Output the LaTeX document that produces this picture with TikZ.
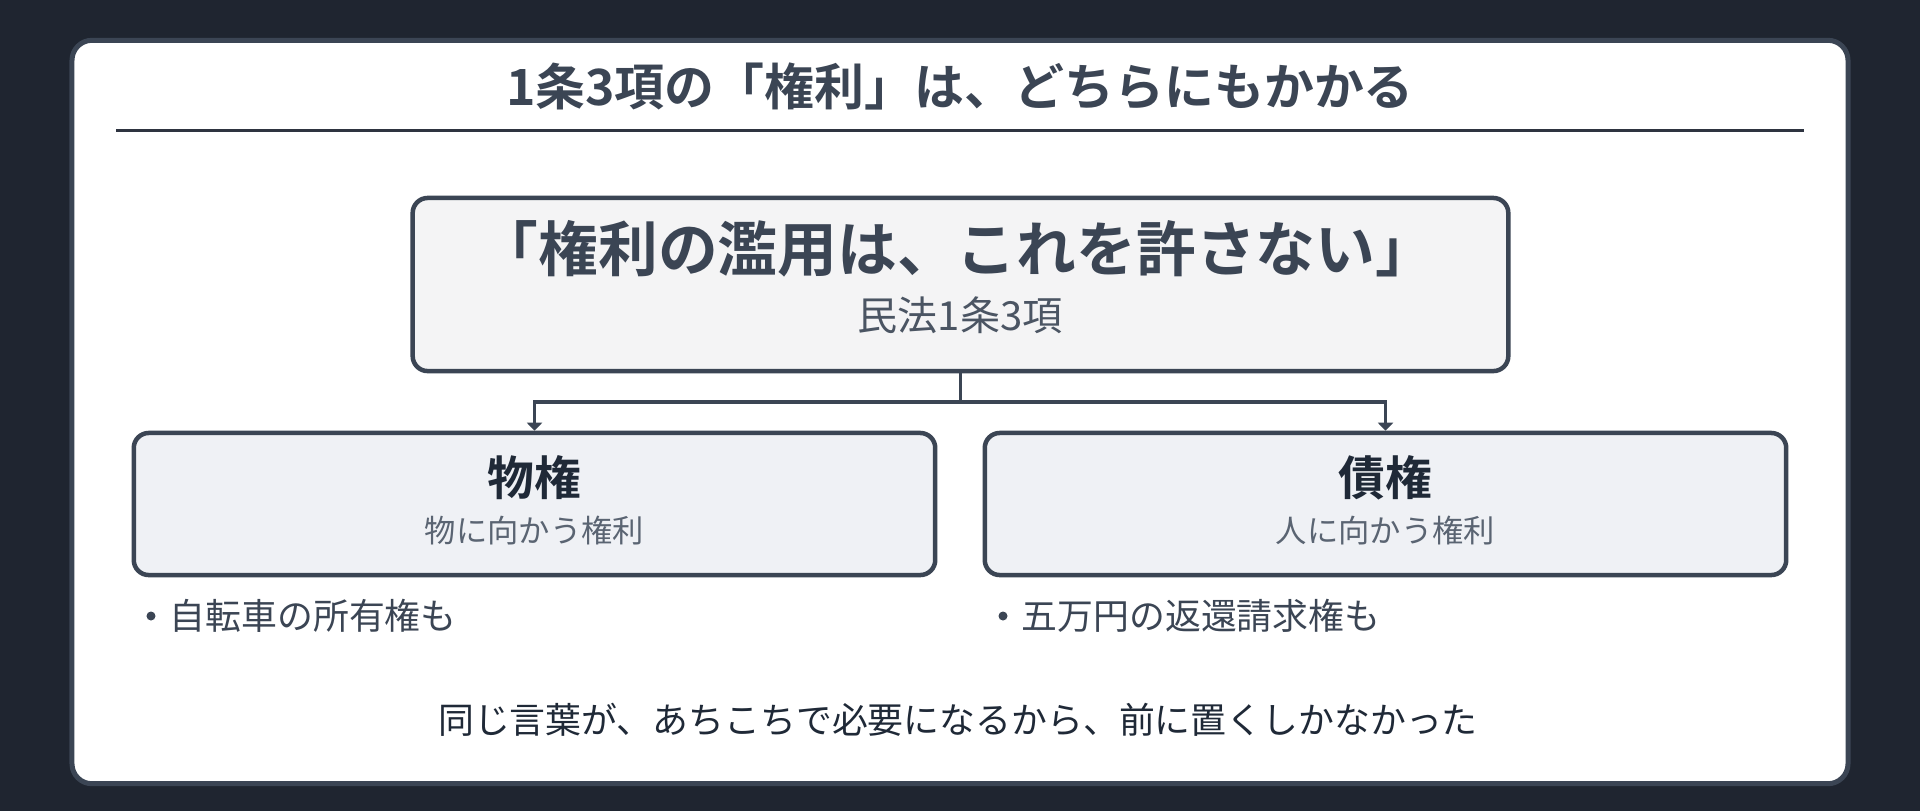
\documentclass[tikz,border=0pt]{standalone}
\usepackage{fontspec}
\setmainfont{Noto Sans CJK JP}[BoldFont={Noto Sans CJK JP Bold}]
\usetikzlibrary{arrows.meta}
\definecolor{bgdark}{HTML}{1F2530}
\definecolor{cardline}{HTML}{3B4554}
\definecolor{slatetext}{HTML}{3B4554}
\definecolor{subgray}{HTML}{4B5563}
\definecolor{lightgray}{HTML}{5A6472}
\definecolor{darktext}{HTML}{1F2937}
\definecolor{rulecol}{HTML}{2E3440}
\definecolor{mainfill}{HTML}{F4F4F5}
\definecolor{childfill}{HTML}{EFF1F5}
\newcommand\jpsize[1]{\fontsize{#1}{#1}\selectfont}
\tikzset{
  cardbox/.style={draw=cardline, line width=1.42pt, fill=white, rounded corners=0.2cm, inner sep=0pt},
  mainbox/.style={draw=cardline, line width=1.28pt, fill=mainfill, rounded corners=0.15cm, inner sep=0pt, minimum width=10.95cm, minimum height=1.73cm},
  childbox/.style={draw=cardline, line width=1.28pt, fill=childfill, rounded corners=0.15cm, inner sep=0pt, minimum width=8.01cm, minimum height=1.42cm},
  conn/.style={draw=cardline, line width=1pt},
  arr/.style={conn, -{Triangle[length=0.08cm,width=0.15cm]}},
  txt/.style={inner sep=0pt, anchor=center},
  bulletdot/.style={circle, fill=slatetext, inner sep=0pt, minimum size=0.09cm},
}
\begin{document}
\begin{tikzpicture}[x=0.01cm,y=-0.01cm]
\fill[bgdark] (0,0) rectangle (1920,811);
\useasboundingbox (0,0) rectangle (1920,811);
\node[cardbox, minimum width=17.75cm, minimum height=7.43cm] (card) at (960,412) {};
\node[txt, text=slatetext, font=\bfseries\jpsize{14.2pt}] (title) at (960,86) {1条3項の「権利」は、どちらにもかかる};
\coordinate (ruleL) at (116,130);
\coordinate (ruleR) at (1804,130);
\draw[rulecol, line width=0.85pt] (ruleL) -- (ruleR);
\node[mainbox] (main) at (960.5,284.5) {};
\node[txt, text=slatetext, font=\bfseries\jpsize{17pt}] (quote) at (957,249) {「権利の濫用は、これを許さない」};
\node[txt, text=subgray, font=\jpsize{11.4pt}] (law) at (960,315) {民法1条3項};
\node[childbox] (lbox) at (534.5,504) {};
\node[childbox] (rbox) at (1385.5,504) {};
\node[txt, text=darktext, font=\bfseries\jpsize{13.3pt}] (lhead) at (534.5,478) {物権};
\node[txt, text=lightgray, font=\jpsize{8.9pt}] (lsub) at (534.5,531) {物に向かう権利};
\node[txt, text=darktext, font=\bfseries\jpsize{13.3pt}] (rhead) at (1385.5,478) {債権};
\node[txt, text=lightgray, font=\jpsize{8.9pt}] (rsub) at (1385.5,531) {人に向かう権利};
\coordinate (junction) at (960.5,402);
\draw[conn] (main.south) -- (junction);
\draw[arr] (junction) -| (lbox.north);
\draw[arr] (junction) -| (rbox.north);
\node[bulletdot] (ldot) at (151,616) {};
\node[txt, anchor=west, text=slatetext, font=\jpsize{10.2pt}] (lbul) at (169,616) {自転車の所有権も};
\node[bulletdot] (rdot) at (1003,616) {};
\node[txt, anchor=west, text=slatetext, font=\jpsize{10.2pt}] (rbul) at (1021,616) {五万円の返還請求権も};
\node[txt, text=darktext, font=\jpsize{10.2pt}] (foot) at (958,720) {同じ言葉が、あちこちで必要になるから、前に置くしかなかった};
\end{tikzpicture}
\end{document}
